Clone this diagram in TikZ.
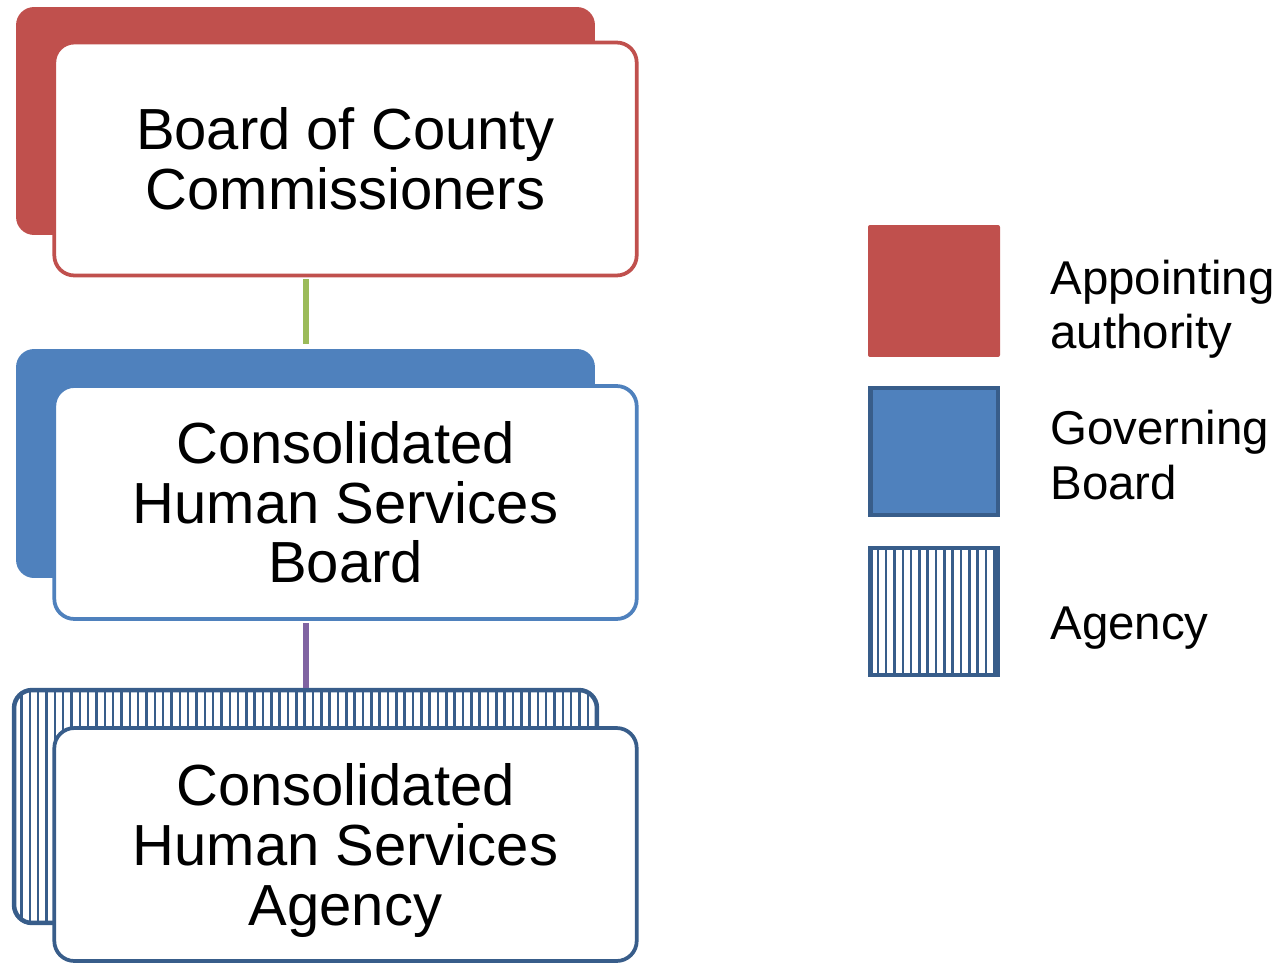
\documentclass[tikz,border=0pt]{standalone}
\usepackage{fontspec}
\setmainfont{Liberation Sans}
\definecolor{apptred}{HTML}{C0504D}
\definecolor{govblue}{HTML}{4F81BD}
\definecolor{agencyblue}{HTML}{385D8A}
\definecolor{linkgreen}{HTML}{9BBB59}
\definecolor{linkpurple}{HTML}{8064A2}

\tikzset{
  frontbox/.style={draw, fill=white, line width=0.075cm, rounded corners=0.4cm, inner sep=0pt,
    minimum width=11.65cm, minimum height=4.66cm, align=center, font=\fontsize{33}{34}\selectfont},
  backbox/.style={rounded corners=0.36cm, inner sep=0pt, minimum width=11.58cm, minimum height=4.56cm},
  keybox/.style={inner sep=0pt, minimum width=2.55cm, minimum height=2.55cm},
  keytext/.style={anchor=west, align=left, inner sep=0pt, font=\fontsize{27}{31}\selectfont},
  link/.style={line width=0.12cm},
  stripes/.style={path picture={
    \foreach \k in {0,...,#1}
      \draw[agencyblue, line width=0.05cm]
        ([xshift=\k*0.1666cm+0.15cm]path picture bounding box.south west) --
        ([xshift=\k*0.1666cm+0.15cm]path picture bounding box.north west);}}
}

\begin{document}
\begin{tikzpicture}[x=0.02cm, y=-0.02cm]
\useasboundingbox (0,0) rectangle (1283,963);

% appointing authority
\node[backbox, fill=apptred] (commback) at (305.5,121) {};
\node[frontbox, draw=apptred] (comm) at (345.5,159) {Board of County\\Commissioners};

% governing board
\node[backbox, fill=govblue, minimum height=4.58cm] (hsbback) at (305.5,463.5) {};
\node[frontbox, draw=govblue] (hsb) at (345.5,502.5) {Consolidated\\Human Services\\Board};

% agency
\node[backbox, draw=agencyblue, fill=white, line width=0.09cm, minimum width=11.66cm, minimum height=4.66cm, stripes=70] (hsaback) at (305.5,806.5) {};
\node[frontbox, draw=agencyblue] (hsa) at (345.5,844.5) {Consolidated\\Human Services\\\raisebox{0pt}[\height][0pt]{Agency}};

\draw[link, linkgreen, shorten <=0.04cm, shorten >=0.1cm] (hsbback.north |- comm.south) -- (hsbback.north);
\draw[link, linkpurple, shorten <=0.04cm] (hsaback.north |- hsb.south) -- (hsaback.north);

% legend
\node[keybox, fill=apptred, minimum width=2.64cm, minimum height=2.64cm, rounded corners=0.04cm] (keyappt) at (934,291) {};
\node[keytext] (keyappttext) at (1050,309) {Appointing\\authority};

\node[keybox, fill=govblue, draw=agencyblue, line width=0.09cm] (keygov) at (934,451.5) {};
\node[keytext] (keygovtext) at (1050,455) {Governing\\Board};

\node[keybox, fill=white, draw=agencyblue, line width=0.09cm, stripes=14] (keyagency) at (934,611.5) {};
\node[keytext] (keyagencytext) at (1050,628) {Agency};
\end{tikzpicture}
\end{document}
